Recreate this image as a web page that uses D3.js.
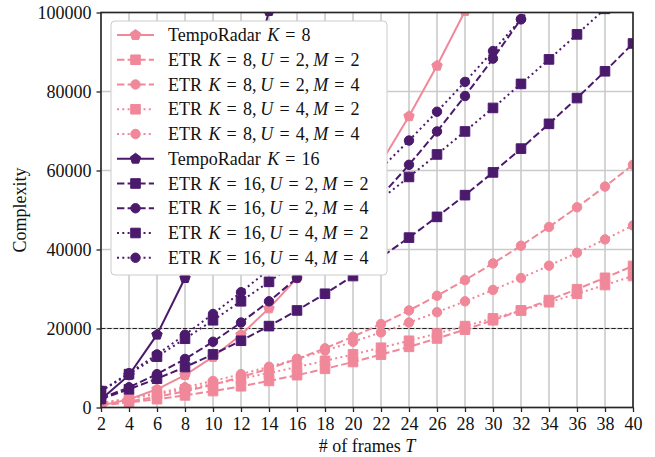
<!DOCTYPE html>
<html><head><meta charset="utf-8">
<script src="https://cdn.jsdelivr.net/npm/d3@7"></script>
<style>
body{margin:0;background:#fff}
svg{display:block}
text{font-family:"Liberation Serif","Times New Roman",serif;fill:#111}
</style>
</head><body>
<svg id="c" width="655" height="457"></svg>
<script>
// ---- data ----
const frames = [2,4,6,8,10,12,14,16,18,20,22,24,26,28,30,32,34,36,38,40];
const yTicks = [0,20000,40000,60000,80000,100000];
const threshold = 20000;

const tr8      = [512,2048,4608,8192,12800,18432,25088,32768,41472,51200,61952,73728,86528,100352,null,null,null,null,null,null];
const etr8_u2m2 = [576,1280,2112,3072,4160,5376,6720,8192,9792,11520,13376,15360,17472,19712,22080,24576,27200,29952,32832,35840];
const etr8_u2m4 = [640,1536,2688,4096,5760,7680,9856,12288,14976,17920,21120,24576,28288,32256,36480,40960,45696,50688,55936,61440];
const etr8_u4m2 = [1056,2176,3360,4608,5920,7296,8736,10240,11808,13440,15136,16896,18720,20608,22560,24576,26656,28800,31008,33280];
const etr8_u4m4 = [1088,2304,3648,5120,6720,8448,10304,12288,14400,16640,19008,21504,24128,26880,29760,32768,35904,39168,42560,46080];
const tr16      = [2048,8192,18432,32768,51200,73728,100352,null,null,null,null,null,null,null,null,null,null,null,null,null];
const etr16_u2m2 = [2176,4608,7296,10240,13440,16896,20608,24576,28800,33280,38016,43008,48256,53760,59520,65536,71808,78336,85120,92160];
const etr16_u2m4 = [2304,5120,8448,12288,16640,21504,26880,32768,39168,46080,53504,61440,69888,78848,88320,98304,108800,null,null,null];
const etr16_u4m2 = [4160,8448,12864,17408,22080,26880,31808,36864,42048,47360,52800,58368,64064,69888,75840,81920,88128,94464,100928,null];
const etr16_u4m4 = [4224,8704,13440,18432,23680,29184,34944,40960,47232,53760,60544,67584,74880,82432,90240,98304,106624,null,null,null];

const PINK = "#f0889a", PURPLE = "#4b1a6d";

const series = [
  {vals: tr8,        color: PINK,   dash: null,  marker: "pent",   name: "TempoRadar", K: 8},
  {vals: etr8_u2m2,  color: PINK,   dash: "dash",marker: "square", name: "ETR", K: 8,  U: 2, M: 2},
  {vals: etr8_u2m4,  color: PINK,   dash: "dash",marker: "circle", name: "ETR", K: 8,  U: 2, M: 4},
  {vals: etr8_u4m2,  color: PINK,   dash: "dot", marker: "square", name: "ETR", K: 8,  U: 4, M: 2},
  {vals: etr8_u4m4,  color: PINK,   dash: "dot", marker: "circle", name: "ETR", K: 8,  U: 4, M: 4},
  {vals: tr16,       color: PURPLE, dash: null,  marker: "pent",   name: "TempoRadar", K: 16},
  {vals: etr16_u2m2, color: PURPLE, dash: "dash",marker: "square", name: "ETR", K: 16, U: 2, M: 2},
  {vals: etr16_u2m4, color: PURPLE, dash: "dash",marker: "circle", name: "ETR", K: 16, U: 2, M: 4},
  {vals: etr16_u4m2, color: PURPLE, dash: "dot", marker: "square", name: "ETR", K: 16, U: 4, M: 2},
  {vals: etr16_u4m4, color: PURPLE, dash: "dot", marker: "circle", name: "ETR", K: 16, U: 4, M: 4}
];

// ---- layout ----
const L = 101, R = 633, TOP = 12.5, BOT = 407.5;
const FS = 18;
const svg = d3.select("#c");
const x = d3.scaleLinear().domain([2,40]).range([L,R]);
const y = d3.scaleLinear().domain([0,100000]).range([BOT,TOP]);

const dashes = {dash: "7.4,3.2", dot: "2,3.3"};

const pentagon = {
  draw(ctx, size){
    const r = Math.sqrt(size);
    for(let i=0;i<5;i++){
      const a = -Math.PI/2 + i*2*Math.PI/5;
      const px = r*Math.cos(a), py = r*Math.sin(a);
      if(i===0) ctx.moveTo(px,py); else ctx.lineTo(px,py);
    }
    ctx.closePath();
  }
};
function symPath(m){
  if(m==="square") return d3.symbol(d3.symbolSquare, 92)();
  if(m==="circle") return d3.symbol(d3.symbolCircle, 70)();
  return d3.symbol(pentagon, 30)();
}

svg.append("defs").append("clipPath").attr("id","clip")
  .append("rect").attr("x",L).attr("y",TOP).attr("width",R-L).attr("height",BOT-TOP);

// grid
const grid = svg.append("g");
grid.selectAll("line.v").data(frames).join("line")
  .attr("x1",d=>x(d)).attr("x2",d=>x(d)).attr("y1",TOP).attr("y2",BOT)
  .attr("stroke","#cbcbcb").attr("stroke-width",1.6);
grid.selectAll("line.h").data(yTicks).join("line")
  .attr("x1",L).attr("x2",R).attr("y1",d=>y(d)).attr("y2",d=>y(d))
  .attr("stroke","#cbcbcb").attr("stroke-width",1.6);

const plot = svg.append("g").attr("clip-path","url(#clip)");
plot.append("line").attr("x1",L).attr("x2",R).attr("y1",y(threshold)).attr("y2",y(threshold))
  .attr("stroke","#222").attr("stroke-width",1.2).attr("stroke-dasharray","4.4,1.9");

const line = d3.line().defined(d=>d[1]!=null).x(d=>x(d[0])).y(d=>y(d[1]));
series.forEach(s=>{
  const pts = frames.map((t,i)=>[t,s.vals[i]]);
  const g = plot.append("g");
  g.append("path").attr("d",line(pts)).attr("fill","none")
    .attr("stroke",s.color).attr("stroke-width",2)
    .attr("stroke-dasharray", s.dash ? dashes[s.dash] : null);
  g.selectAll("path.m").data(pts.filter(p=>p[1]!=null)).join("path")
    .attr("d",symPath(s.marker))
    .attr("transform",d=>`translate(${x(d[0])},${y(d[1])})`)
    .attr("fill",s.color).attr("stroke",s.color).attr("stroke-width",1);
});

// spines
svg.append("rect").attr("x",L).attr("y",TOP).attr("width",R-L).attr("height",BOT-TOP)
  .attr("fill","none").attr("stroke","#262626").attr("stroke-width",1.6);

// axes
const xAxis = d3.axisBottom(x).tickValues(frames).tickSize(4.5).tickPadding(5).tickFormat(d3.format("d"));
const gx = svg.append("g").attr("transform",`translate(0,${BOT})`).call(xAxis);
const yAxis = d3.axisLeft(y).tickValues(yTicks).tickSize(4.5).tickPadding(5).tickFormat(d3.format("d"));
const gy = svg.append("g").attr("transform",`translate(${L},0)`).call(yAxis);
[gx,gy].forEach(g=>{
  g.select(".domain").remove();
  g.selectAll(".tick line").attr("stroke","#262626").attr("stroke-width",1.3);
  g.selectAll(".tick text").attr("font-size",FS).attr("fill","#111")
    .style("font-family",'"Liberation Serif",serif');
});

// axis labels
svg.append("text").attr("x",(L+R)/2).attr("y",452).attr("text-anchor","middle").attr("font-size",FS)
  .call(t=>{t.append("tspan").text("# of frames "); t.append("tspan").attr("font-style","italic").text("T");});
svg.append("text").attr("transform",`translate(26,${(TOP+BOT)/2}) rotate(-90)`).attr("text-anchor","middle")
  .attr("font-size",FS).text("Complexity");

// legend with LaTeX-like math spacing
const lg = svg.append("g");
lg.append("rect").attr("x",111).attr("y",21).attr("width",276).attr("height",254).attr("rx",4)
  .attr("fill","#fff").attr("stroke","#cccccc").attr("stroke-width",1);

function labelTokens(s){
  // [text, italic, spaceBeforeEm]
  const toks = [[s.name,0,0],["K",1,0.36],["=",0,0.34],[String(s.K)+(s.U!=null?",":""),0,0.34]];
  if(s.U!=null){
    toks.push(["U",1,0.22],["=",0,0.34],[s.U+",",0,0.34],["M",1,0.22],["=",0,0.34],[String(s.M),0,0.34]);
  }
  return toks;
}
series.forEach((s,i)=>{
  const cy = 35 + i*24.75;
  lg.append("line").attr("x1",117).attr("x2",154).attr("y1",cy).attr("y2",cy)
    .attr("stroke",s.color).attr("stroke-width",2)
    .attr("stroke-dasharray", s.dash ? dashes[s.dash] : null);
  lg.append("path").attr("d",symPath(s.marker)).attr("transform",`translate(135.5,${cy})`)
    .attr("fill",s.color).attr("stroke",s.color).attr("stroke-width",1);
  const t = lg.append("text").attr("y",cy+6).attr("font-size",FS);
  let cx = 168;
  labelTokens(s).forEach(([txt,it,sp])=>{
    cx += sp*FS;
    const ts = t.append("tspan").attr("x",cx).text(txt);
    if(it) ts.attr("font-style","italic");
    cx += ts.node().getComputedTextLength();
  });
});
</script>
</body></html>
